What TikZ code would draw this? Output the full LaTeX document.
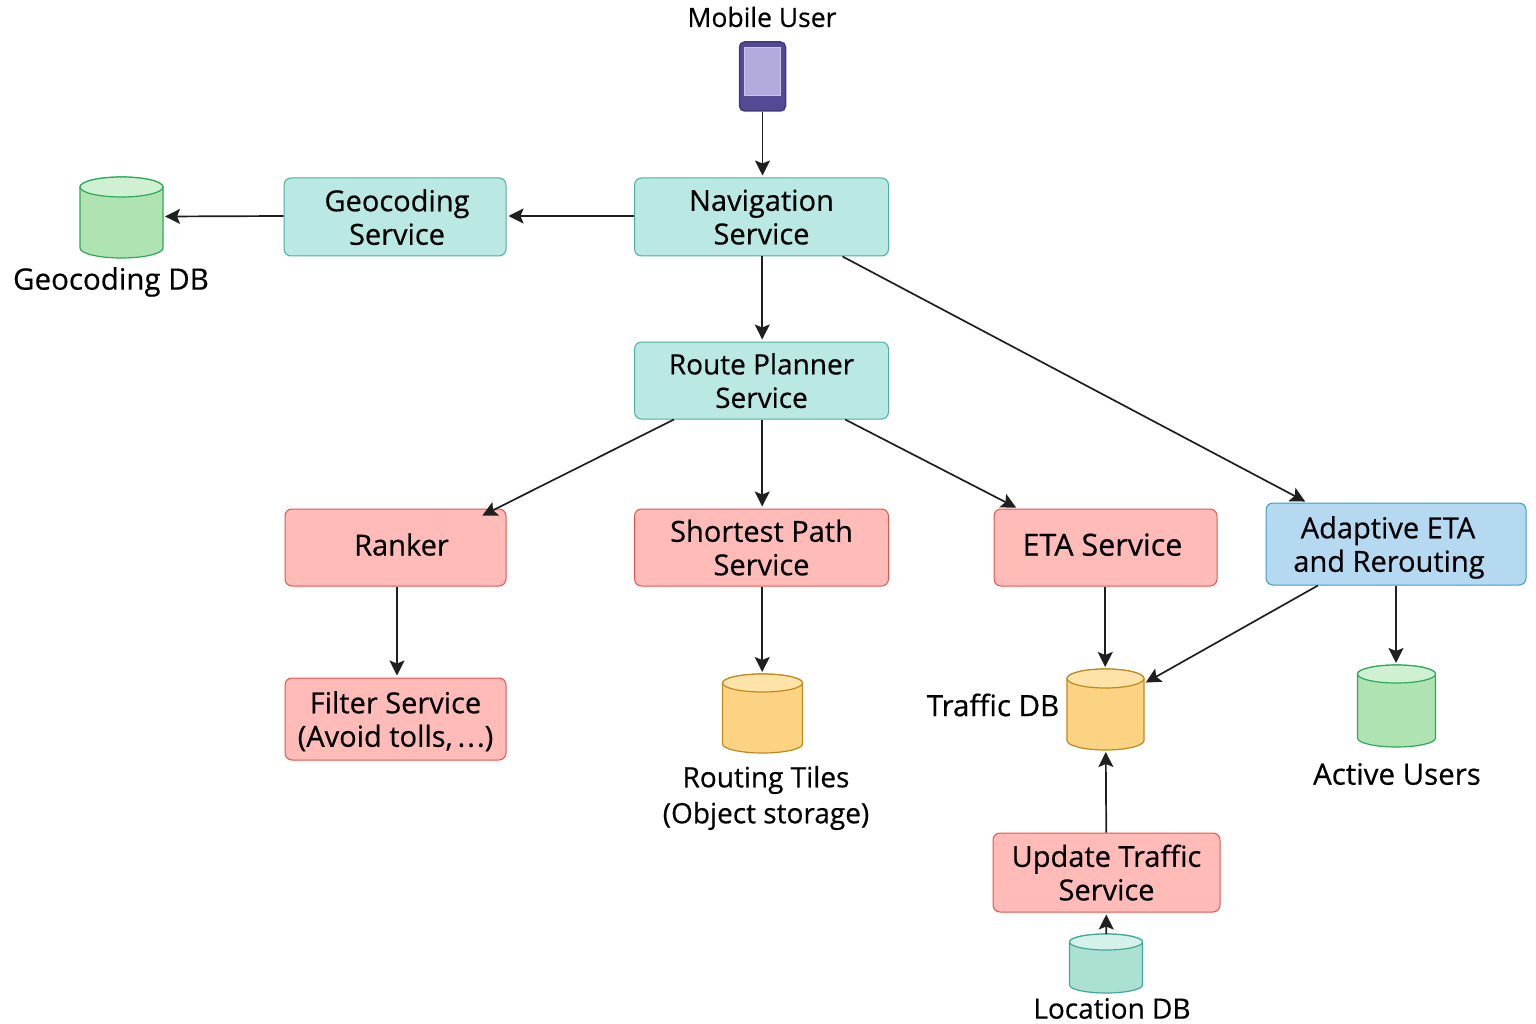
\documentclass[tikz,border=0pt]{standalone}
\usepackage{fontspec}
\setmainfont[RawFeature={embolden=0.5}]{Open Sans}
\usetikzlibrary{arrows.meta}
\definecolor{tealfill}{HTML}{B9E9E2}
\definecolor{tealline}{HTML}{4FAE9F}
\definecolor{redfill}{HTML}{FFBBB8}
\definecolor{redline}{HTML}{E8524A}
\definecolor{bluefill}{HTML}{B5D9F1}
\definecolor{blueline}{HTML}{3E9CC4}
\definecolor{greenfill}{HTML}{AFE3B2}
\definecolor{greentop}{HTML}{D0F0D4}
\definecolor{greenline}{HTML}{2BAA58}
\definecolor{orangefill}{HTML}{FCD283}
\definecolor{orangetop}{HTML}{FEE3A8}
\definecolor{orangeline}{HTML}{BE8A1C}
\definecolor{mintfill}{HTML}{ACE0D3}
\definecolor{minttop}{HTML}{D6F1EA}
\definecolor{mintline}{HTML}{3FA99A}
\definecolor{phonefill}{HTML}{544A94}
\definecolor{phoneline}{HTML}{43397F}
\definecolor{phonescreen}{HTML}{B3ABDD}
\tikzset{
	box/.style={draw,rounded corners=7pt,line width=1pt,align=center,font=\fontsize{29}{33.5}\selectfont,inner sep=0pt,text depth=-4pt},
	oneline/.style={text depth=6pt},
	svcteal/.style={box,fill=tealfill,draw=tealline},
	svcred/.style={box,fill=redfill,draw=redline},
	svcblue/.style={box,fill=bluefill,draw=blueline},
	store/.style={inner sep=0pt,outer sep=0pt},
	caption/.style={align=center,font=\fontsize{29.5}{36}\selectfont,inner sep=0pt},
	link/.style={-{Stealth[length=15pt,width=15pt,inset=3pt]},line width=1.7pt,draw=black!88,shorten >=2pt}
}
\begin{document}
\begin{tikzpicture}[x=1pt,y=-1pt]
\useasboundingbox (0,0) rectangle (1536,1024);
% phone
\node[draw=phoneline,fill=phonefill,rounded corners=5pt,line width=1.5pt,minimum width=46pt,minimum height=69pt,inner sep=0pt] (phone) at (762.5,76.5) {};
\node[fill=phonescreen,draw=phonescreen!70!white,line width=.6pt,minimum width=36pt,minimum height=48pt,inner sep=0pt] (screen) at (762.5,71) {};
\node[caption,font=\fontsize{26.5}{32}\selectfont] (user) at (762,17) {Mobile User};

% services
\node[svcteal,minimum width=254pt,minimum height=78pt] (nav) at (761.5,217) {Navigation\\Service};
\node[svcteal,minimum width=222pt,minimum height=78pt] (geo) at (395,217) {\hspace*{4pt}Geocoding\\\hspace*{4pt}Service};
\node[svcteal,font=\fontsize{28}{33.5}\selectfont,minimum width=254pt,minimum height=77pt] (route) at (761.5,380.5) {Route Planner\\Service};
\node[svcred,oneline,minimum width=221pt,minimum height=77pt] (ranker) at (395.5,547.5) {\hspace*{12pt}Ranker};
\node[svcred,minimum width=254pt,minimum height=77pt] (shortest) at (761.5,547.5) {Shortest Path\\Service};
\node[svcred,oneline,font=\fontsize{30.5}{33.5}\selectfont,minimum width=223pt,minimum height=77pt] (eta) at (1105.5,547.5) {ETA Service\hspace*{6pt}};
\node[svcblue,minimum width=260pt,minimum height=82pt] (adaptive) at (1396,544) {Adaptive ETA\hspace*{16pt}\\and Rerouting\hspace*{14pt}};
\node[svcred,minimum width=221pt,minimum height=82pt] (filter) at (395.5,719) {Filter Service\\(Avoid tolls,\,.\kern2pt.\kern2pt.)};
\node[svcred,minimum width=227pt,minimum height=79pt] (update) at (1106.5,872.5) {Update Traffic\\Service};

% stores
\node[store,minimum width=83pt,minimum height=81pt] (geodb) at (121.5,217.5) {};
\node[store,minimum width=80pt,minimum height=79pt] (tiles) at (762.5,713.5) {};
\node[store,minimum width=77pt,minimum height=81pt] (traffic) at (1105.5,709.5) {};
\node[store,minimum width=78pt,minimum height=82pt] (active) at (1396.5,706) {};
\node[store,minimum width=73pt,minimum height=59pt] (location) at (1106,963.5) {};
\foreach \n/\rx/\ry/\body/\lid/\edge in {geodb/41.5/10/greenfill/greentop/greenline,
	tiles/40/9/orangefill/orangetop/orangeline,
	traffic/38.5/9.5/orangefill/orangetop/orangeline,
	active/39/9/greenfill/greentop/greenline,
	location/36.5/8/mintfill/minttop/mintline} {
	\draw[line width=1.2pt,draw=\edge,fill=\body] ([yshift=-\ry pt]\n.north west) -- ([yshift=\ry pt]\n.south west)
		arc[start angle=180,end angle=360,x radius=\rx pt,y radius=\ry pt]
		-- ([yshift=-\ry pt]\n.north east)
		arc[start angle=0,end angle=180,x radius=\rx pt,y radius=\ry pt] -- cycle;
	\draw[line width=1.2pt,draw=\edge,fill=\lid] ([yshift=-\ry pt]\n.north) ellipse[x radius=\rx pt,y radius=\ry pt];
}

\node[caption] (geolabel) at (111,282) {Geocoding DB};
\node[caption,font=\fontsize{28}{36}\selectfont] (tileslabel) at (766,798) {Routing Tiles\\(Object storage)};
\node[caption] (trafficlabel) at (993,705) {Traffic DB};
\node[caption] (activelabel) at (1397,774) {Active Users};
\node[caption,font=\fontsize{28}{34}\selectfont] (locationlabel) at (1112,1008.5) {Location DB};

% connectors
\draw[link] (phone) -- (phone |- nav.north);
\draw[link] ([yshift=1pt]nav.west) -- ([yshift=1pt]geo.east);
\draw[link] ([yshift=1pt]geo.west) -- ([yshift=1pt]geodb.east);
\draw[link] ([xshift=.7pt]nav.south) -- ([xshift=.7pt]route.north);
\draw[link] (nav.-26) -- (adaptive.155);
\draw[link] (route.204) -- ([shift={(-26,8)}]ranker.north east);
\draw[link] ([xshift=.7pt]route.south) -- ([xshift=.7pt]shortest.north);
\draw[link] (route.-25) -- (eta.156);
\draw[link] ([xshift=1.5pt]ranker.south) -- ([xshift=1.5pt]filter.north);
\draw[link] ([xshift=.7pt]shortest.south) -- ([xshift=.7pt]shortest.south |- tiles.north);
\draw[link] ([xshift=-.3pt]eta.south) -- ([xshift=-.3pt]traffic.north);
\draw[link] (adaptive.208) -- (traffic.34);
\draw[link] (adaptive) -- (adaptive |- active.north);
\draw[link] (update) -- (traffic);
\draw[link] (location) -- (update);
\end{tikzpicture}
\end{document}
